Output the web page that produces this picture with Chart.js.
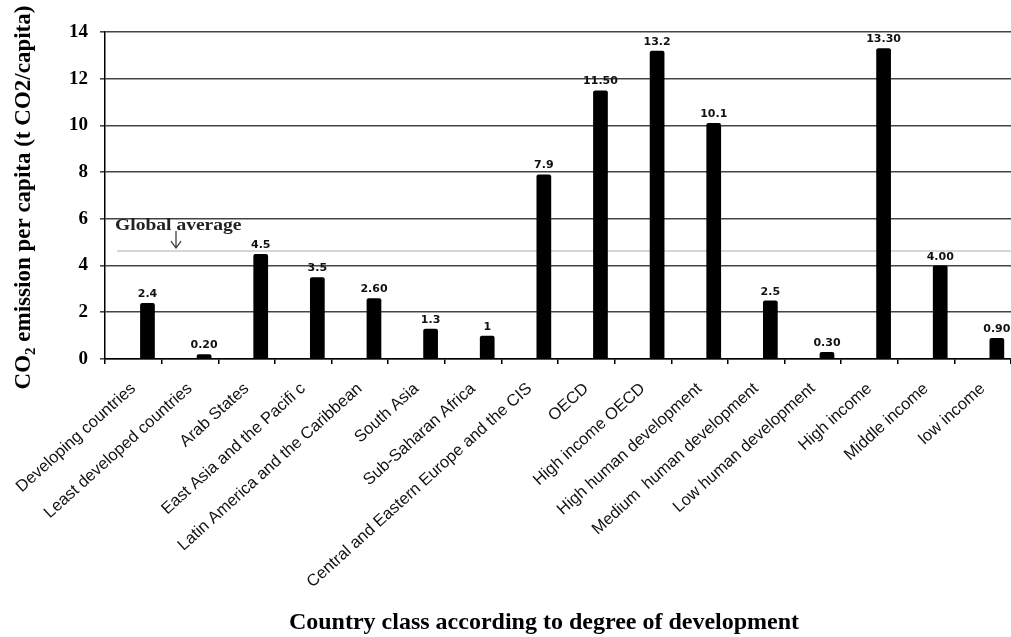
<!DOCTYPE html>
<html>
<head>
<meta charset="utf-8">
<title>CO2 emission per capita by country class</title>
<script src="https://cdn.jsdelivr.net/npm/chart.js@4"></script>
<style>
  html, body { margin: 0; padding: 0; background: #fff; }
  #wrap { width: 1011px; height: 637px; }
</style>
</head>
<body>
<div id="wrap"><canvas id="co2Chart" width="1011" height="637"></canvas></div>
<script>
// ====== Data ======
const countryClasses = [
    "Developing countries",
    "Least developed countries",
    "Arab States",
    "East Asia and the Pacifi c",
    "Latin America and the Caribbean",
    "South Asia",
    "Sub-Saharan Africa",
    "Central and Eastern Europe and the CIS",
    "OECD",
    "High income OECD",
    "High human development",
    "Medium  human development",
    "Low human development",
    "High income",
    "Middle income",
    "low income"
];

// t CO2 per capita
const emissionPerCapita = [2.4, 0.2, 4.5, 3.5, 2.6, 1.3, 1, 7.9, 11.5, 13.2, 10.1, 2.5, 0.3, 13.3, 4.0, 0.9];

// decimals shown in each bar's value label
const labelDecimals = [1, 2, 1, 1, 2, 1, 0, 1, 2, 1, 1, 1, 2, 2, 2, 2];

const globalAverage = 4.62;

const yMin = 0;
const yMax = 14;
const yStep = 2;

const yTitleParts = ["CO", "2", " emission per capita (t CO2/capita)"];
const xTitle = "Country class according to degree of development";

// ====== Plugins ======
const SERIF = "'Liberation Serif', 'Times New Roman', serif";

// grey reference line with its label and arrow
const globalAveragePlugin = {
    id: "globalAverage",
    beforeDatasetsDraw(chart) {
        const { ctx, chartArea, scales } = chart;
        const y = scales.y.getPixelForValue(globalAverage);
        ctx.save();
        ctx.strokeStyle = "#c8c8c8";
        ctx.lineWidth = 1.5;
        ctx.beginPath();
        ctx.moveTo(chartArea.left + 12, y);
        ctx.lineTo(chartArea.right, y);
        ctx.stroke();

        ctx.fillStyle = "#222";
        ctx.font = "bold 17px " + SERIF;
        ctx.textAlign = "left";
        ctx.textBaseline = "alphabetic";
        ctx.save();
        ctx.translate(chartArea.left + 10, y - 21);
        ctx.scale(1.15, 1);
        ctx.fillText("Global average", 0, 0);
        ctx.restore();

        // arrow pointing down at the line
        const ax = chartArea.left + 71;
        const tip = y - 3;
        ctx.strokeStyle = "#333";
        ctx.lineWidth = 1.2;
        ctx.beginPath();
        ctx.moveTo(ax, y - 20);
        ctx.lineTo(ax, tip);
        ctx.moveTo(ax - 5, tip - 7);
        ctx.lineTo(ax, tip);
        ctx.lineTo(ax + 5, tip - 7);
        ctx.stroke();
        ctx.restore();
    }
};

// value labels above bars
const valueLabelPlugin = {
    id: "valueLabels",
    afterDatasetsDraw(chart) {
        const { ctx } = chart;
        const meta = chart.getDatasetMeta(1);
        ctx.save();
        ctx.fillStyle = "#111";
        ctx.font = "bold 11px 'DejaVu Sans', Verdana, sans-serif";
        ctx.textAlign = "center";
        ctx.textBaseline = "alphabetic";
        meta.data.forEach((bar, i) => {
            const text = emissionPerCapita[i].toFixed(labelDecimals[i]);
            ctx.fillText(text, bar.x, bar.y - 6);
        });
        ctx.restore();
    }
};

// axis titles (y title carries a subscript)
const axisTitlePlugin = {
    id: "axisTitles",
    afterDraw(chart) {
        const { ctx, chartArea } = chart;
        ctx.save();
        ctx.fillStyle = "#000";
        ctx.textBaseline = "alphabetic";

        // x title
        ctx.font = "bold 24px " + SERIF;
        ctx.textAlign = "center";
        ctx.fillText(xTitle, (chartArea.left + chartArea.right) / 2 - 14, 629);

        // y title, rotated
        const big = "bold 23px " + SERIF;
        const small = "bold 15px " + SERIF;
        ctx.font = big;
        const w0 = ctx.measureText(yTitleParts[0]).width;
        const w2 = ctx.measureText(yTitleParts[2]).width;
        ctx.font = small;
        const w1 = ctx.measureText(yTitleParts[1]).width;
        const total = w0 + w1 + w2;

        ctx.translate(30, (chartArea.top + chartArea.bottom) / 2 + 2);
        ctx.rotate(-Math.PI / 2);
        ctx.textAlign = "left";
        let x = -total / 2;
        ctx.font = big;
        ctx.fillText(yTitleParts[0], x, 0);
        x += w0;
        ctx.font = small;
        ctx.fillText(yTitleParts[1], x, 5);
        x += w1;
        ctx.font = big;
        ctx.fillText(yTitleParts[2], x, 0);
        ctx.restore();
    }
};

// ====== Chart ======
const ctx = document.getElementById("co2Chart").getContext("2d");

new Chart(ctx, {
    type: "bar",
    data: {
        labels: countryClasses,
        datasets: [
            {
                // empty slot that pushes each bar right of its category centre
                label: "",
                data: countryClasses.map(() => null),
                backgroundColor: "transparent"
            },
            {
                label: "CO2 emission per capita",
                data: emissionPerCapita,
                backgroundColor: "#000",
                borderRadius: 2,
                borderSkipped: "bottom"
            }
        ]
    },
    options: {
        responsive: false,
        animation: false,
        events: [],
        layout: { padding: { top: 32, right: 0, bottom: 0, left: 0 } },
        datasets: {
            bar: { categoryPercentage: 1.0, barPercentage: 0.52 }
        },
        plugins: {
            legend: { display: false },
            tooltip: { enabled: false }
        },
        scales: {
            x: {
                offset: true,
                grid: {
                    offset: true,
                    drawOnChartArea: false,
                    drawTicks: true,
                    tickLength: 5,
                    color: "#000",
                    lineWidth: 1.5
                },
                border: { color: "#000", width: 1.5 },
                ticks: {
                    autoSkip: false,
                    minRotation: 42,
                    maxRotation: 42,
                    padding: 15,
                    color: "#111",
                    font: { family: "'Liberation Sans', Arial, sans-serif", size: 16.5 }
                },
                afterFit(scale) {
                    scale.height = 637 - 359;
                    scale.paddingLeft = 0;
                    scale.paddingRight = 0;
                }
            },
            y: {
                min: yMin,
                max: yMax,
                ticks: {
                    stepSize: yStep,
                    padding: 12,
                    color: "#000",
                    font: { family: SERIF, size: 19, weight: "bold" }
                },
                grid: {
                    color: "#444",
                    lineWidth: 1.6,
                    tickLength: 5
                },
                border: { color: "#000", width: 1.5 },
                afterFit(scale) {
                    scale.width = 105;
                }
            }
        }
    },
    plugins: [globalAveragePlugin, valueLabelPlugin, axisTitlePlugin]
});
</script>
</body>
</html>
